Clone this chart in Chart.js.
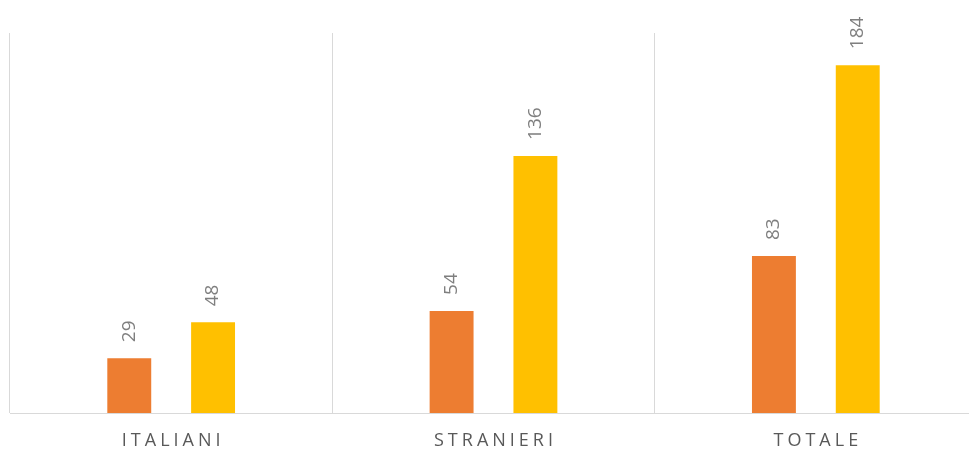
<!DOCTYPE html>
<html>
<head>
<meta charset="utf-8">
<script src="https://cdn.jsdelivr.net/npm/chart.js@4/dist/chart.umd.min.js"></script>
<style>
  html, body { margin: 0; padding: 0; background: #ffffff; overflow: hidden; }
  #wrap { width: 969px; height: 453px; overflow: hidden; }
  #c { display: block; }
</style>
</head>
<body>
<div id="wrap"><canvas id="c" width="978" height="453"></canvas></div>
<script>
const categories = ['ITALIANI', 'STRANIERI', 'TOTALE'];
const seriesA = [29, 54, 83];
const seriesB = [48, 136, 184];

// Rotated value labels above each bar
const valueLabels = {
  id: 'valueLabels',
  afterDatasetsDraw(chart) {
    const ctx = chart.ctx;
    ctx.save();
    ctx.font = '19px "Open Sans"';
    ctx.fillStyle = '#7f7f7f';
    ctx.textAlign = 'left';
    ctx.textBaseline = 'middle';
    chart.data.datasets.forEach((ds, i) => {
      chart.getDatasetMeta(i).data.forEach((bar, j) => {
        ctx.save();
        ctx.translate(bar.x, bar.y - 16);
        ctx.rotate(-Math.PI / 2);
        ctx.fillText(String(ds.data[j]), 0, 0);
        ctx.restore();
      });
    });
    ctx.restore();
  }
};

// Letter-spaced category names below the baseline
const categoryLabels = {
  id: 'categoryLabels',
  afterDraw(chart) {
    const ctx = chart.ctx;
    const x = chart.scales.x;
    ctx.save();
    ctx.font = '18px "Open Sans"';
    ctx.fillStyle = '#595959';
    ctx.letterSpacing = '4px';
    ctx.textAlign = 'center';
    ctx.textBaseline = 'middle';
    categories.forEach((name, i) => {
      ctx.fillText(name, x.getPixelForValue(i) + 2, chart.chartArea.bottom + 28);
    });
    ctx.restore();
  }
};

new Chart(document.getElementById('c'), {
  type: 'bar',
  data: {
    labels: categories,
    datasets: [
      { data: seriesA, backgroundColor: '#ED7D31', barPercentage: 0.524, categoryPercentage: 0.52 },
      { data: seriesB, backgroundColor: '#FFC000', barPercentage: 0.524, categoryPercentage: 0.52 }
    ]
  },
  options: {
    responsive: false,
    animation: false,
    layout: { padding: { left: 10, right: 1, top: 33, bottom: 40 } },
    plugins: { legend: { display: false }, tooltip: { enabled: false } },
    scales: {
      x: {
        offset: true,
        grid: { display: true, offset: true, color: '#d9d9d9', drawTicks: false },
        border: { display: true, color: '#d9d9d9' },
        ticks: { display: false }
      },
      y: {
        display: false,
        min: 0,
        max: 201
      }
    }
  },
  plugins: [valueLabels, categoryLabels]
});
</script>
</body>
</html>
